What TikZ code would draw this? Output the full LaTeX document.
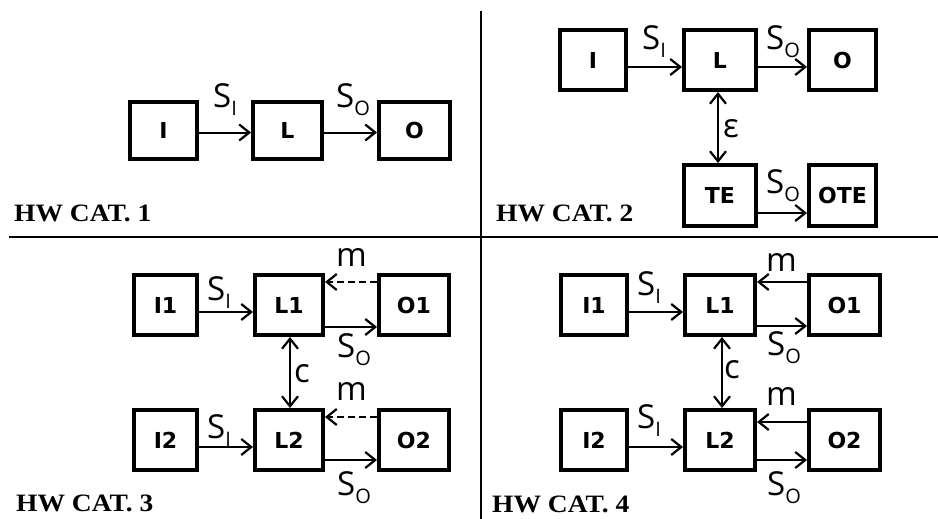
\documentclass[tikz,border=0pt]{standalone}
\usepackage{fontspec}
\setmainfont{Liberation Serif}
\newfontfamily\boxfont{DejaVu Sans}
\newfontfamily\labfont{Open Sans}
\usetikzlibrary{arrows.meta}
\newcommand{\sig}[1]{S\raisebox{-8pt}{\fontsize{20}{20}\selectfont #1}}
\tikzset{
  hwbox/.style={draw, line width=4pt, inner sep=0pt, minimum height=60pt, font=\boxfont\bfseries\fontsize{22}{22}\selectfont},
  arr/.style={line width=2pt, -{Straight Barb[length=10pt,width=16pt,line width=2.2pt]}},
  darr/.style={arr, dash pattern=on 7pt off 4pt},
  barr/.style={line width=2pt, {Straight Barb[length=10pt,width=16pt,line width=2.2pt]}-{Straight Barb[length=10pt,width=16pt,line width=2.2pt]}},
  lab/.style={inner sep=0pt, anchor=base west, font=\labfont\fontsize{33}{33}\selectfont},
  cat/.style={inner sep=0pt, anchor=base west, font=\bfseries\fontsize{25}{25}\selectfont, xscale=1.1},
  sep/.style={line width=2.5pt}
}
\begin{document}
\begin{tikzpicture}[x=1pt,y=-1pt]
\useasboundingbox (0,0) rectangle (938,519);
% separators
\coordinate (h1) at (9,237);
\coordinate (h2) at (938,237);
\coordinate (v1) at (481,11);
\coordinate (v2) at (481,519);
\draw[sep] (h1) -- (h2);
\draw[sep] (v1) -- (v2);

% ---------- Panel 1 ----------
\node[hwbox, minimum width=67pt, minimum height=57pt] (aI) at (163.5,130.5) {I};
\node[hwbox, minimum width=69pt, minimum height=57pt] (aL) at (287.5,130.5) {L};
\node[hwbox, minimum width=71pt, minimum height=57pt] (aO) at (414.5,130.5) {O};
\draw[arr] ([yshift=-2pt]aI.east) -- ([yshift=-2pt]aL.west);
\draw[arr] ([yshift=-2pt]aL.east) -- ([yshift=-2pt]aO.west);
\node[lab] (aSI) at (213,107) {\sig{I}};
\node[lab] (aSO) at (336,108) {\sig{O}};
\node[cat] (acat) at (14,221) {HW CAT. 1};

% ---------- Panel 2 ----------
\node[hwbox, minimum width=66pt] (bI) at (593,60) {I};
\node[hwbox, minimum width=72pt] (bL) at (720,60) {L};
\node[hwbox, minimum width=67pt] (bO) at (842.5,60) {O};
\node[hwbox, minimum width=72pt, minimum height=61pt] (bTE) at (720,195.5) {TE};
\node[hwbox, minimum width=67pt, minimum height=61pt] (bOTE) at (842.5,195.5) {OTE};
\draw[arr] ([yshift=-7pt]bI.east) -- ([yshift=-7pt]bL.west);
\draw[arr] ([yshift=-7pt]bL.east) -- ([yshift=-7pt]bO.west);
\draw[arr] ([yshift=-17.5pt]bTE.east) -- ([yshift=-17.5pt]bOTE.west);
\draw[barr] ([xshift=-2pt]bL.south) -- ([xshift=-2pt]bTE.north);
\node[lab] (bSI) at (642,50) {\sig{I}};
\node[lab] (bSO) at (766,50) {\sig{O}};
\node[lab] (bSO2) at (766,193) {\sig{O}};
\node[lab] (beps) at (723,138) {ε};
\node[cat] (bcat) at (496,221) {HW CAT. 2};

% ---------- Panel 3 ----------
\node[hwbox, minimum width=63pt] (cI1) at (165.5,305) {I1};
\node[hwbox, minimum width=68pt] (cL1) at (289,305) {L1};
\node[hwbox, minimum width=70pt] (cO1) at (414,305) {O1};
\node[hwbox, minimum width=63pt] (cI2) at (165.5,440) {I2};
\node[hwbox, minimum width=68pt] (cL2) at (289,440) {L2};
\node[hwbox, minimum width=70pt] (cO2) at (414,440) {O2};
\draw[arr] ([yshift=-7pt]cI1.east) -- ([yshift=-7pt]cL1.west);
\draw[darr] ([yshift=23pt]cO1.west) -- ([yshift=23pt]cL1.east);
\draw[arr] ([yshift=-22pt]cL1.east) -- ([yshift=-22pt]cO1.west);
\draw[arr] ([yshift=-7pt]cI2.east) -- ([yshift=-7pt]cL2.west);
\draw[darr] ([yshift=23pt]cO2.west) -- ([yshift=23pt]cL2.east);
\draw[arr] ([yshift=-20pt]cL2.east) -- ([yshift=-20pt]cO2.west);
\draw[barr] ([xshift=1pt]cL1.south) -- ([xshift=1pt]cL2.north);
\node[lab] (cSI1) at (207,300) {\sig{I}};
\node[lab] (cm1) at (336,266) {m};
\node[lab] (cSO1) at (337,357) {\sig{O}};
\node[lab] (cc) at (294,382) {c};
\node[lab] (cm2) at (336,400) {m};
\node[lab] (cSI2) at (207,438) {\sig{I}};
\node[lab] (cSO2) at (337,495) {\sig{O}};
\node[cat] (ccat) at (16,511) {HW CAT. 3};

% ---------- Panel 4 ----------
\node[hwbox, minimum width=66pt] (dI1) at (594,305) {I1};
\node[hwbox, minimum width=70pt] (dL1) at (720,305) {L1};
\node[hwbox, minimum width=71pt] (dO1) at (844.5,305) {O1};
\node[hwbox, minimum width=66pt] (dI2) at (594,440) {I2};
\node[hwbox, minimum width=70pt] (dL2) at (720,440) {L2};
\node[hwbox, minimum width=71pt] (dO2) at (844.5,440) {O2};
\draw[arr] ([yshift=-7pt]dI1.east) -- ([yshift=-7pt]dL1.west);
\draw[arr] ([yshift=23pt]dO1.west) -- ([yshift=23pt]dL1.east);
\draw[arr] ([yshift=-21pt]dL1.east) -- ([yshift=-21pt]dO1.west);
\draw[arr] ([yshift=-7pt]dI2.east) -- ([yshift=-7pt]dL2.west);
\draw[arr] ([yshift=18pt]dO2.west) -- ([yshift=18pt]dL2.east);
\draw[arr] ([yshift=-20pt]dL2.east) -- ([yshift=-20pt]dO2.west);
\draw[barr] ([xshift=2pt]dL1.south) -- ([xshift=2pt]dL2.north);
\node[lab] (dSI1) at (637,295) {\sig{I}};
\node[lab] (dm1) at (766,271) {m};
\node[lab] (dSO1) at (767,355) {\sig{O}};
\node[lab] (dc) at (724,378) {c};
\node[lab] (dm2) at (766,405) {m};
\node[lab] (dSI2) at (637,428) {\sig{I}};
\node[lab] (dSO2) at (767,495) {\sig{O}};
\node[cat] (dcat) at (492,512) {HW CAT. 4};
\end{tikzpicture}
\end{document}
